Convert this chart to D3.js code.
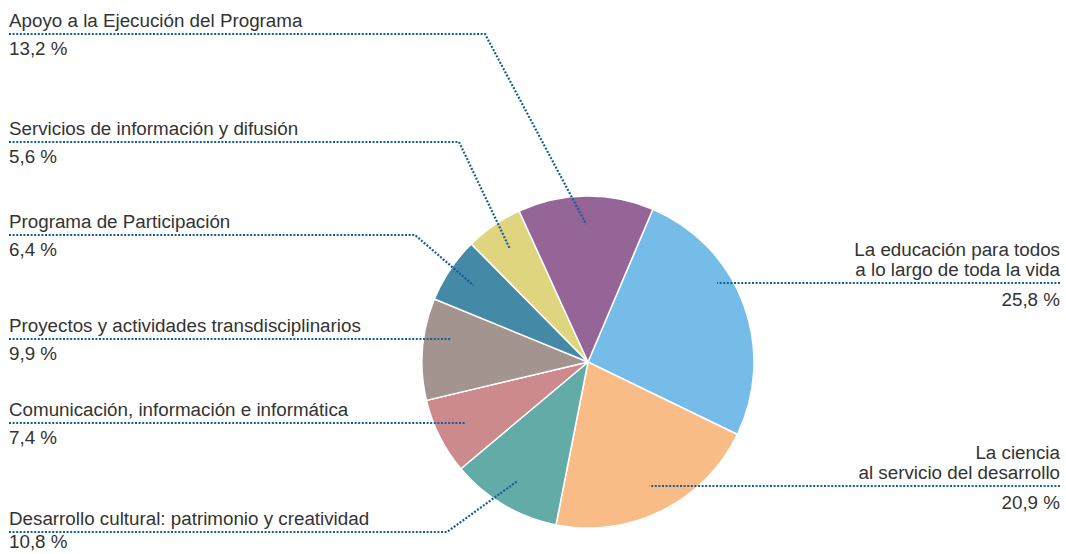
<!DOCTYPE html>
<html>
<head>
<meta charset="utf-8">
<script src="https://cdn.jsdelivr.net/npm/d3@7"></script>
<style>
  body { margin: 0; background: #fff; }
  text { font-family: "Liberation Sans", Arial, sans-serif; font-size: 18.8px; fill: #333; }
</style>
</head>
<body>
<div id="chart"></div>
<script>
// data, clockwise from the blue slice
const categories = [
  "La educación para todos|a lo largo de toda la vida",
  "La ciencia|al servicio del desarrollo",
  "Desarrollo cultural: patrimonio y creatividad",
  "Comunicación, información e informática",
  "Proyectos y actividades transdisciplinarios",
  "Programa de Participación",
  "Servicios de información y difusión",
  "Apoyo a la Ejecución del Programa"
];
const shares = [25.8, 20.9, 10.8, 7.4, 9.9, 6.4, 5.6, 13.2];
const valueLabels = ["25,8 %", "20,9 %", "10,8 %", "7,4 %", "9,9 %", "6,4 %", "5,6 %", "13,2 %"];
const colors = ["#75bde8", "#f9bc87", "#62aba7", "#cc8a8c", "#a3948f", "#448aa6", "#e0d57f", "#946596"];

// label layout: side, y of the dotted line, x of the elbow (left side only)
const labelSide = ["right", "right", "left", "left", "left", "left", "left", "left"];
const lineY = [283, 486, 532, 423, 339, 235, 142, 34];
const elbowX = [null, null, 447, null, null, 415, 459, 485];

const width = 1066, height = 554;
const cx = 588, cy = 362, radius = 166;
const startAngle = 23 * Math.PI / 180;

const svg = d3.select("#chart").append("svg")
  .attr("width", width)
  .attr("height", height);

const data = categories.map((c, i) => ({ name: c, value: shares[i], label: valueLabels[i], i: i }));

const pie = d3.pie()
  .value(d => d.value)
  .sort(null)
  .startAngle(startAngle)
  .endAngle(startAngle + 2 * Math.PI);

const arc = d3.arc().innerRadius(0).outerRadius(radius);
const anchorArc = d3.arc().innerRadius(radius * 0.83).outerRadius(radius * 0.83);

const arcs = pie(data);

const g = svg.append("g").attr("transform", `translate(${cx},${cy})`);

g.selectAll("path.slice")
  .data(arcs)
  .enter()
  .append("path")
  .attr("class", "slice")
  .attr("d", arc)
  .style("fill", d => colors[d.data.i])
  .style("stroke", "#fff")
  .style("stroke-width", 1.5);

// leader lines
const lineGen = d3.line();
arcs.forEach(d => {
  const i = d.data.i;
  const a = anchorArc.centroid(d);
  const ax = a[0] + cx, ay = a[1] + cy;
  let pts;
  if (labelSide[i] === "right") {
    pts = [[width - 6, lineY[i]], [ax, lineY[i]]];
  } else if (elbowX[i] === null) {
    pts = [[9, lineY[i]], [ax, lineY[i]]];
  } else {
    pts = [[9, lineY[i]], [elbowX[i], lineY[i]], [ax, ay]];
  }
  svg.append("path")
    .attr("d", lineGen(pts))
    .style("fill", "none")
    .style("stroke", "#175f92")
    .style("stroke-width", 2.2)
    .style("stroke-dasharray", "2,1.6");
});

// text labels
arcs.forEach(d => {
  const i = d.data.i;
  const lines = d.data.name.split("|");
  if (labelSide[i] === "left") {
    svg.append("text")
      .attr("x", 9)
      .attr("y", lineY[i] - 7)
      .text(lines[0]);
    svg.append("text")
      .attr("x", 9)
      .attr("y", Math.min(lineY[i] + 21, height - 6))
      .text(d.data.label);
  } else {
    lines.forEach((t, k) => {
      svg.append("text")
        .attr("x", width - 6)
        .attr("y", lineY[i] - 7 - (lines.length - 1 - k) * 20.5)
        .attr("text-anchor", "end")
        .text(t);
    });
    svg.append("text")
      .attr("x", width - 6)
      .attr("y", lineY[i] + 23)
      .attr("text-anchor", "end")
      .text(d.data.label);
  }
});
</script>
</body>
</html>
